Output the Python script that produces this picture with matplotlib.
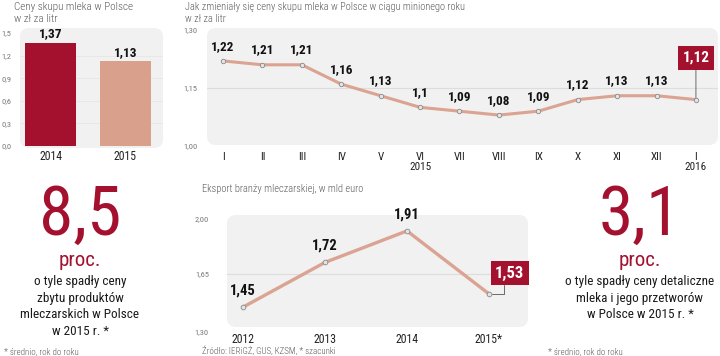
import matplotlib
matplotlib.use("Agg")
import matplotlib.pyplot as plt
from matplotlib import font_manager
from matplotlib.patches import FancyBboxPatch
from matplotlib.transforms import IdentityTransform, blended_transform_factory

# dane
bar_years = ["2014", "2015"]
bar_values = [1.37, 1.13]
bar_colors = ["#a3112e", "#d9a08c"]

months = ["I", "II", "III", "IV", "V", "VI", "VII", "VIII", "IX", "X", "XI", "XII", "I"]
month_values = [1.22, 1.21, 1.21, 1.16, 1.13, 1.10, 1.09, 1.08, 1.09, 1.12, 1.13, 1.13, 1.12]

export_years = ["2012", "2013", "2014", "2015*"]
export_values = [1.45, 1.72, 1.91, 1.53]

RED = "#a3112e"
LINE = "#dba391"
GRAY = "#5c5c5c"
BG = "#f1f1f1"

names = {f.name for f in font_manager.fontManager.ttflist}
COND = next((n for n in ["Roboto Condensed", "Liberation Sans Narrow", "Roboto"] if n in names), "DejaVu Sans")
plt.rcParams["font.family"] = [COND, "DejaVu Sans"]

W, H = 720, 356
fig = plt.figure(figsize=(7.2, 3.56), dpi=100)


def box(l, t, r, b):
    return [l / W, 1 - b / H, (r - l) / W, (b - t) / H]


def bg(l, t, r, b):
    p = FancyBboxPatch((l, H - b), r - l, b - t, boxstyle="round,pad=0,rounding_size=9",
                       transform=IdentityTransform(), fc=BG, ec="none", zorder=-5)
    fig.add_artist(p)


def txt(x, y, s, **kw):
    fig.text(x / W, 1 - y / H, s, **kw)


def fmt(v):
    return f"{v:.2f}".rstrip("0").replace(".", ",")


def clean(ax):
    ax.patch.set_visible(False)
    for s in ax.spines.values():
        s.set_visible(False)
    ax.tick_params(length=0)


# --- panel 1: słupki
bg(20, 28, 163, 148)
ax1 = fig.add_axes(box(13, 33, 163, 146))
clean(ax1)
ax1.bar(range(len(bar_values)), bar_values, width=0.68, color=bar_colors, zorder=3)
for i, v in enumerate(bar_values):
    ax1.text(i, v + 0.03, fmt(v), ha="center", va="bottom", fontsize=9.5, fontweight="bold", color="#111")
ax1.set_xlim(-0.5, 1.5)
ax1.set_ylim(0, 1.5)
ax1.set_yticks([0, 0.3, 0.6, 0.9, 1.2, 1.5])
ax1.set_yticklabels([f"{t:.1f}".replace(".", ",") for t in ax1.get_yticks()], fontsize=6, color="#777")
ax1.tick_params(axis="y", pad=1)
for t in [0.3, 0.6, 0.9, 1.2]:
    ax1.axhline(t, xmin=0.047, color="#e6e6e6", lw=0.6, zorder=1)
ax1.set_xticks(range(len(bar_years)))
ax1.set_xticklabels(bar_years, fontsize=8.5, color="#222")
ax1.tick_params(axis="x", pad=3)

txt(14, 7, "Ceny skupu mleka w Polsce", fontsize=8, color=GRAY, va="center", fontweight="light")
txt(14, 19, "w zł za litr", fontsize=8, color=GRAY, va="center", fontweight="light")

# --- panel 2: ceny miesięczne
bg(207, 28, 718, 145)
ax2 = fig.add_axes(box(207, 30, 718, 146))
clean(ax2)
x2 = list(range(len(month_values)))
ax2.plot(x2, month_values, color=LINE, lw=2.2, zorder=3, solid_capstyle="round")
ax2.plot(x2, month_values, "o", ms=3.2, mfc="#e4e4e4", mec="#8a8a8a", mew=0.6, zorder=4)
ax2.axhline(1.15, color="#dddddd", lw=0.8, zorder=1)
for i, v in enumerate(month_values[:-1]):
    ax2.annotate(fmt(v), (i, v), xytext=(0, 6), textcoords="offset points", ha="center", va="bottom",
                 fontsize=9.5, fontweight="bold", color="#111")
ax2.annotate(fmt(month_values[-1]), (x2[-1], month_values[-1]), xytext=(0, 30), textcoords="offset points",
             ha="center", va="center", fontsize=11, fontweight="bold", color="white",
             bbox=dict(boxstyle="square,pad=0.3", fc=RED, ec="none"),
             arrowprops=dict(arrowstyle="-", color="#555", lw=0.6, relpos=(0.5, 0), shrinkA=0, shrinkB=1))
ax2.set_xlim(-0.406, 12.56)
ax2.set_ylim(1.0, 1.3)
ax2.set_yticks([1.0, 1.15, 1.3])
ax2.set_yticklabels([f"{t:.2f}".replace(".", ",") for t in [1.0, 1.15, 1.3]], fontsize=6, color="#777")
ax2.tick_params(axis="y", pad=7)
ax2.set_xticks(x2)
ax2.set_xticklabels(months, fontsize=8, color="#222")
ax2.tick_params(axis="x", pad=4)
tr2 = blended_transform_factory(ax2.transData, ax2.transAxes)
ax2.text(5, -0.185, "2015", transform=tr2, ha="center", va="center", fontsize=8, color="#222")
ax2.text(12, -0.185, "2016", transform=tr2, ha="center", va="center", fontsize=8, color="#222")

txt(185, 7, "Jak zmieniały się ceny skupu mleka w Polsce w ciągu minionego roku", fontsize=7.5,
    color=GRAY, va="center", fontweight="light")
txt(185, 19, "w zł za litr", fontsize=7.5, color=GRAY, va="center", fontweight="light")

# --- panel 3: eksport
bg(227, 215, 528, 327)
ax3 = fig.add_axes(box(227, 216, 528, 332))
clean(ax3)
x3 = list(range(len(export_values)))
ax3.plot(x3, export_values, color=LINE, lw=2.4, zorder=3)
ax3.plot(x3, export_values, "o", ms=3.4, mfc="#e4e4e4", mec="#8a8a8a", mew=0.6, zorder=4)
ax3.axhline(1.65, color="#dddddd", lw=0.8, zorder=1)
for i, v in enumerate(export_values[:-1]):
    ax3.annotate(fmt(v), (i, v), xytext=(0, 7), textcoords="offset points", ha="center", va="bottom",
                 fontsize=10.5, fontweight="bold", color="#111")
ax3.annotate(fmt(export_values[-1]), (x3[-1], export_values[-1]), xytext=(15, 15), textcoords="offset points",
             ha="center", va="center", fontsize=12, fontweight="bold", color="white",
             bbox=dict(boxstyle="square,pad=0.25", fc=RED, ec="none"),
             arrowprops=dict(arrowstyle="-", color="#555", lw=0.6, relpos=(0.3, 0), shrinkA=0, shrinkB=2,
                             connectionstyle="angle,angleA=90,angleB=0,rad=0"))
ax3.set_xlim(-0.195, 3.476)
ax3.set_ylim(1.3, 2.0)
ax3.set_yticks([1.3, 1.65, 2.0])
ax3.set_yticklabels([f"{t:.2f}".replace(".", ",") for t in [1.3, 1.65, 2.0]], fontsize=6, color="#777")
ax3.get_yticklabels()[-1].set_va("top")
ax3.tick_params(axis="y", pad=13)
ax3.set_xticks(x3)
ax3.set_xticklabels(export_years, fontsize=8.5, color="#222")
ax3.tick_params(axis="x", pad=1)

txt(202, 189, "Eksport branży mleczarskiej, w mld euro", fontsize=7.5, color=GRAY, va="center", fontweight="light")
txt(202, 351, "Źródło: IERiGŻ, GUS, KZSM, * szacunki", fontsize=6.5, color=GRAY, va="center", fontweight="light")

# --- liczby
for cx, big, lines, note_x in [
    (80, "8,5", ["o tyle spadły ceny", "zbytu produktów", "mleczarskich w Polsce", "w 2015 r. *"], 4),
    (640, "3,1", ["o tyle spadły ceny detaliczne", "mleka i jego przetworów", "w Polsce w 2015 r. *"], 548),
]:
    txt(cx, 216, big, fontsize=50, color=RED, ha="center", va="center")
    txt(cx, 261, "proc.", fontsize=15, color=RED, ha="center", va="center")
    for k, line in enumerate(lines):
        txt(cx, 282 + k * 16.5, line, fontsize=9.5, color="#1a1a1a", ha="center", va="center")
    txt(note_x, 352, "* średnio, rok do roku", fontsize=6.5, color=GRAY, va="center", fontweight="light")

fig.savefig("out.png", dpi=100)
